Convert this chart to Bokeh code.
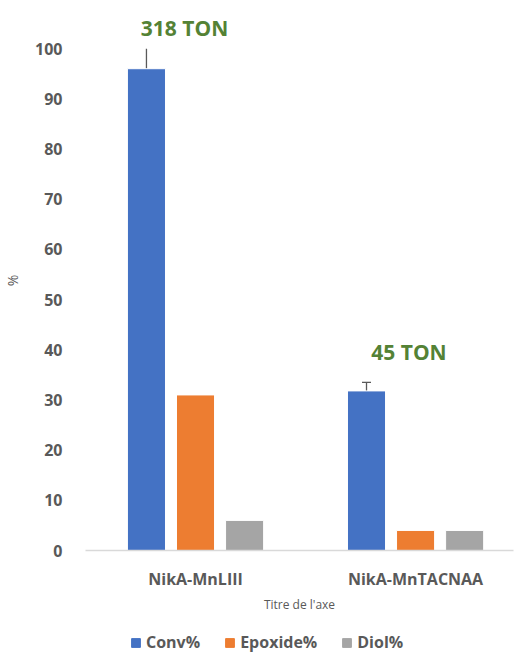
import numpy as np
from bokeh.plotting import figure
from bokeh.layouts import column
from bokeh.models import ColumnDataSource, Whisker, TeeHead, Legend, LegendItem, FixedTicker
from bokeh.transform import dodge
from bokeh.core.properties import value
from bokeh.embed import file_html
from bokeh.resources import INLINE

categories = ["NikA-MnLIII", "NikA-MnTACNAA"]
series = ["Conv%", "Epoxide%", "Diol%"]
conv = [96, 31.8]
epoxide = [31, 4]
diol = [6, 4]
conv_lower = [91.4, 30.2]
conv_upper = [100, 33.5]
ton_labels = ["318 TON", "45 TON"]
colors = ["#4472C4", "#ED7D31", "#A5A5A5"]

xpos = list(np.arange(len(categories)) + 0.5)

src = ColumnDataSource(dict(x=xpos, conv=conv, epoxide=epoxide, diol=diol,
                            lower=conv_lower, upper=conv_upper))

p = figure(width=514, height=620, output_backend="svg", toolbar_location=None,
           x_range=(0, 1.945), y_range=(0, 107.6),
           min_border_left=85, min_border_right=1, min_border_top=10, min_border_bottom=70)
p.outline_line_color = None
p.xgrid.visible = False
p.ygrid.visible = False

off = 0.223
w = 0.173
bar_cols = ["conv", "epoxide", "diol"]
offsets = [-off, 0, off]
for col, o, c in zip(bar_cols, offsets, colors):
    p.vbar(x=dodge("x", o, range=p.x_range), top=col, width=w, source=src,
           fill_color=c, line_color="white", line_width=1)

# error bars
src_a = ColumnDataSource(dict(x=[xpos[0] - off], lower=[conv_lower[0]], upper=[conv_upper[0]]))
src_b = ColumnDataSource(dict(x=[xpos[1] - off], lower=[conv_lower[1]], upper=[conv_upper[1]]))
wa = Whisker(base="x", lower="lower", upper="upper", source=src_a,
             line_color="#595959", line_width=1.3,
             upper_head=None,
             lower_head=TeeHead(size=9, line_color="#595959", line_width=1.3))
wb = Whisker(base="x", lower="lower", upper="upper", source=src_b,
             line_color="#595959", line_width=1.3,
             upper_head=TeeHead(size=9, line_color="#595959", line_width=1.3),
             lower_head=TeeHead(size=9, line_color="#595959", line_width=1.3))
p.add_layout(wa)
p.add_layout(wb)

# TON annotations
ton_y = [104.2, 39.6]
ton_dx = [-0.05, -0.03]
p.text(x=[xpos[i] + ton_dx[i] for i in range(2)], y=ton_y, text=ton_labels,
       text_align="center", text_baseline="middle", text_color="#548235",
       text_font_size="21px", text_font_style="bold", text_font=value("Open Sans"))

# y axis
p.yaxis.ticker = FixedTicker(ticks=list(range(0, 101, 10)))
p.yaxis.axis_line_color = None
p.yaxis.major_tick_line_color = None
p.yaxis.minor_tick_line_color = None
p.yaxis.major_label_standoff = 17
p.yaxis.major_label_text_font = "Open Sans"
p.yaxis.major_label_text_font_size = "16px"
p.yaxis.major_label_text_font_style = "bold"
p.yaxis.major_label_text_color = "#595959"
p.yaxis.axis_label = "%"
p.yaxis.axis_label_text_font = "Open Sans"
p.yaxis.axis_label_text_font_size = "14px"
p.yaxis.axis_label_text_font_style = "normal"
p.yaxis.axis_label_text_color = "#595959"
p.yaxis.axis_label_standoff = 10

# x axis
p.xaxis.ticker = FixedTicker(ticks=xpos)
p.xaxis.major_label_overrides = {float(xv): c for xv, c in zip(xpos, categories)}
p.xaxis.axis_line_color = "#D9D9D9"
p.xaxis.axis_line_width = 1.5
p.xaxis.major_tick_line_color = None
p.xaxis.minor_tick_line_color = None
p.xaxis.major_label_standoff = 11
p.xaxis.major_label_text_font = "Open Sans"
p.xaxis.major_label_text_font_size = "16px"
p.xaxis.major_label_text_font_style = "bold"
p.xaxis.major_label_text_color = "#595959"
p.xaxis.axis_label = "Titre de l'axe"
p.xaxis.axis_label_text_font = "Open Sans"
p.xaxis.axis_label_text_font_size = "12px"
p.xaxis.axis_label_text_font_style = "normal"
p.xaxis.axis_label_text_color = "#595959"
p.xaxis.axis_label_standoff = 3

# legend strip (separate figure so the legend is not clipped)
lf = figure(width=514, height=33, output_backend="svg", toolbar_location=None,
            x_range=(0, 1), y_range=(0, 1),
            min_border_left=0, min_border_right=0, min_border_top=0, min_border_bottom=0)
lf.axis.visible = False
lf.grid.visible = False
lf.outline_line_color = None
items = []
for s, c in zip(series, colors):
    # placeholder bar outside the visible range, only used to draw the legend swatch
    ph = ColumnDataSource(dict(x=[-5.0], top=[0.0]))
    r = lf.vbar(x="x", top="top", width=0.1, source=ph, fill_color=c, line_color=c, line_width=1)
    items.append(LegendItem(label=s, renderers=[r], index=0))
legend = Legend(items=items, orientation="horizontal", location=(45, 0),
                border_line_color=None, background_fill_alpha=0,
                label_text_font="Open Sans", label_text_font_size="16px",
                label_text_font_style="bold", label_text_color="#595959",
                glyph_width=11, glyph_height=11, label_standoff=5, spacing=24,
                padding=0, margin=0)
lf.add_layout(legend, "center")

layout = column(p, lf, spacing=0)
open("out.html", "w").write(file_html(layout, INLINE))
